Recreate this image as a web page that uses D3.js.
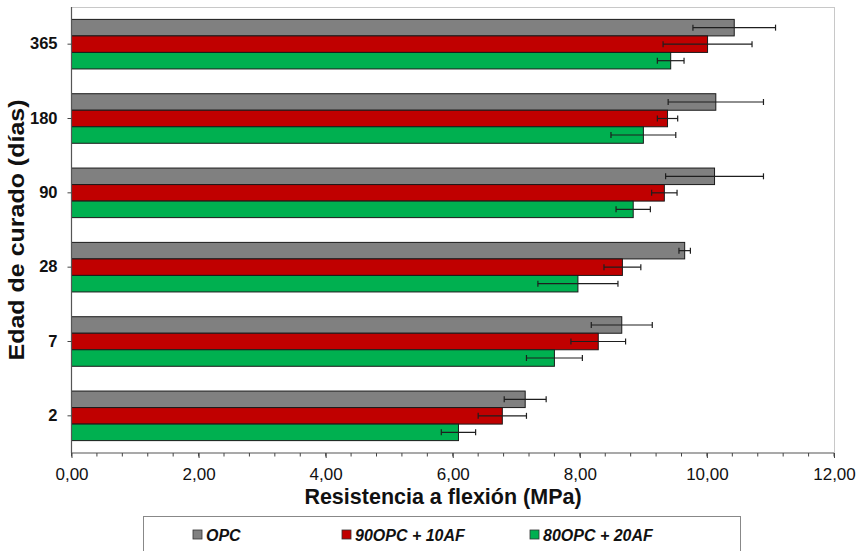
<!DOCTYPE html>
<html>
<head>
<meta charset="utf-8">
<script src="https://cdn.jsdelivr.net/npm/d3@7"></script>
<style>
  html, body { margin: 0; padding: 0; background: #fff; }
  svg { display: block; font-family: "Liberation Sans", Arial, sans-serif; }
</style>
</head>
<body>
<svg id="chart" width="857" height="551"></svg>
<script>
// Curing ages (top to bottom) and mix series
const ages = ["365", "180", "90", "28", "7", "2"];
const seriesNames = ["OPC", "90OPC + 10AF", "80OPC + 20AF"];
const seriesColors = ["#808080", "#C00000", "#00B050"];

// Flexural strength (MPa) per age, one array per mix
const opc       = [10.43, 10.14, 10.12, 9.65, 8.66, 7.14];
const opc90af10 = [10.01, 9.38, 9.33, 8.67, 8.29, 6.78];
const opc80af20 = [9.43, 9.00, 8.84, 7.97, 7.60, 6.09];

// Standard deviations (MPa)
const opcErr       = [0.65, 0.75, 0.77, 0.09, 0.48, 0.33];
const opc90af10Err = [0.70, 0.16, 0.20, 0.29, 0.43, 0.38];
const opc80af20Err = [0.21, 0.51, 0.27, 0.63, 0.44, 0.27];

const xTicks = [0, 2, 4, 6, 8, 10, 12];

const values = [opc, opc90af10, opc80af20];
const errors = [opcErr, opc90af10Err, opc80af20Err];

const data = ages.map((age, i) => ({
  age,
  bars: seriesNames.map((s, k) => ({ s, k, v: values[k][i], e: errors[k][i] }))
}));

const svg = d3.select("#chart");
const plotLeft = 71.5, plotRight = 834, plotTop = 7, plotBottom = 453;

const x = d3.scaleLinear().domain([0, 12]).range([plotLeft, plotRight]);
const y = d3.scaleBand().domain(ages).range([plotTop, plotBottom]);
const ySub = d3.scaleBand().domain(seriesNames).range([0, y.bandwidth()])
  .paddingInner(0).paddingOuter(0.75);

// Plot frame: light top/right edges
svg.append("line").attr("x1", plotLeft).attr("x2", plotRight).attr("y1", plotTop + 0.5).attr("y2", plotTop + 0.5)
  .attr("stroke", "#c8c8c8").attr("stroke-width", 1);
svg.append("line").attr("x1", plotRight + 0.5).attr("x2", plotRight + 0.5).attr("y1", plotTop).attr("y2", plotBottom)
  .attr("stroke", "#c8c8c8").attr("stroke-width", 1);

// Bars
const groups = svg.append("g").selectAll("g").data(data).join("g")
  .attr("transform", d => `translate(0,${y(d.age)})`);

groups.selectAll("rect").data(d => d.bars).join("rect")
  .attr("x", x(0))
  .attr("y", d => ySub(d.s))
  .attr("width", d => x(d.v) - x(0))
  .attr("height", ySub.bandwidth())
  .attr("fill", d => seriesColors[d.k])
  .attr("stroke", "#1a1a1a")
  .attr("stroke-width", 1);

// Error bars
const eb = groups.selectAll("g.err").data(d => d.bars).join("g").attr("class", "err")
  .attr("transform", d => `translate(0,${ySub(d.s) + ySub.bandwidth() / 2})`)
  .attr("stroke", "#1e1e1e").attr("stroke-width", 1.2);
eb.append("line").attr("x1", d => x(d.v - d.e)).attr("x2", d => x(d.v + d.e)).attr("y1", 0).attr("y2", 0);
eb.append("line").attr("x1", d => x(d.v - d.e)).attr("x2", d => x(d.v - d.e)).attr("y1", -3).attr("y2", 3);
eb.append("line").attr("x1", d => x(d.v + d.e)).attr("x2", d => x(d.v + d.e)).attr("y1", -3).attr("y2", 3);

// X axis with minor ticks
const xMinor = d3.range(0, 12.001, 0.4).map(v => +v.toFixed(1));
const xAxisG = svg.append("g").attr("transform", `translate(0,${plotBottom})`);
xAxisG.append("line").attr("x1", plotLeft).attr("x2", plotRight).attr("stroke", "#555").attr("stroke-width", 1.2);
xAxisG.selectAll("line.minor").data(xMinor).join("line").attr("class", "minor")
  .attr("x1", d => x(d)).attr("x2", d => x(d)).attr("y1", 0).attr("y2", 3.5)
  .attr("stroke", "#444").attr("stroke-width", 1);
const xAxis = d3.axisBottom(x).tickValues(xTicks).tickSize(5).tickPadding(10)
  .tickFormat(d => d3.format(".2f")(d).replace(".", ","));
const xa = xAxisG.append("g").call(xAxis);
xa.select(".domain").remove();
xa.selectAll(".tick line").attr("stroke", "#444");
xa.selectAll(".tick text").attr("font-size", 17).attr("fill", "#111")
  .attr("font-family", "Liberation Sans, Arial, sans-serif");

// Y axis
const yAxis = d3.axisLeft(y).tickSize(4).tickPadding(10);
const ya = svg.append("g").attr("transform", `translate(${plotLeft},0)`).call(yAxis);
ya.select(".domain").attr("stroke", "#555").attr("stroke-width", 1.2).attr("d", `M0,${plotTop}V${plotBottom}`);
ya.selectAll(".tick line").attr("stroke", "#444");
ya.selectAll(".tick text").attr("font-size", 16.5).attr("font-weight", "bold").attr("fill", "#111")
  .attr("font-family", "Liberation Sans, Arial, sans-serif");

// Axis titles
svg.append("text").attr("x", 443).attr("y", 504)
  .attr("text-anchor", "middle").attr("font-size", 21.5).attr("font-weight", "bold").attr("fill", "#111")
  .text("Resistencia a flexión (MPa)");
svg.append("text").attr("transform", `translate(23.5,${(plotTop + plotBottom) / 2}) rotate(-90) scale(1,0.85)`)
  .attr("text-anchor", "middle").attr("font-size", 25).attr("font-weight", "bold").attr("fill", "#111")
  .text("Edad de curado (días)");

// Legend
const legend = svg.append("g");
legend.append("rect").attr("x", 143.5).attr("y", 516.5).attr("width", 597).attr("height", 40)
  .attr("fill", "#fff").attr("stroke", "#888").attr("stroke-width", 1);
const legendX = [193, 342, 530];
const items = legend.selectAll("g.item").data(seriesNames).join("g").attr("class", "item")
  .attr("transform", (d, i) => `translate(${legendX[i]},535)`);
items.append("rect").attr("x", 0).attr("y", -5).attr("width", 9).attr("height", 9)
  .attr("fill", (d, i) => seriesColors[i]).attr("stroke", "#333").attr("stroke-width", 0.8);
items.append("text").attr("x", 13).attr("y", 6)
  .attr("font-size", 16).attr("font-weight", "bold").attr("font-style", "italic").attr("fill", "#111")
  .text(d => d);
</script>
</body>
</html>
